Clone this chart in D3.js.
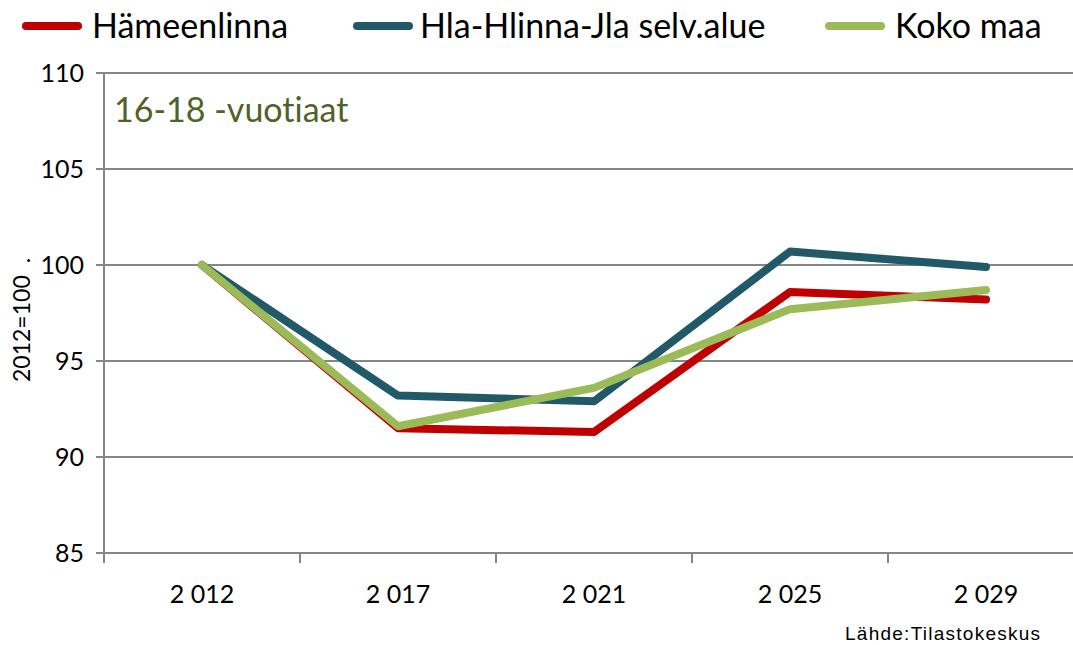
<!DOCTYPE html>
<html>
<head>
<meta charset="utf-8">
<script src="https://cdn.jsdelivr.net/npm/d3@7"></script>
<style>
  body { margin: 0; background: #fff; }
  svg { display: block; font-family: Lato, "Open Sans", sans-serif; font-variant-ligatures: none; }
</style>
</head>
<body>
<svg width="1073" height="645"></svg>
<script>
// vuodet ja indeksit (2012=100)
var years = ["2 012", "2 017", "2 021", "2 025", "2 029"];
var hameenlinna = [100, 91.5, 91.3, 98.6, 98.2];
var selvAlue = [100, 93.2, 92.9, 100.7, 99.9];
var kokoMaa = [100, 91.6, 93.6, 97.7, 98.7];
var yTicks = [85, 90, 95, 100, 105, 110];

var series = [
    { name: "Hämeenlinna", values: hameenlinna, color: "#c00000" },
    { name: "Hla-Hlinna-Jla selv.alue", values: selvAlue, color: "#215968" },
    { name: "Koko maa", values: kokoMaa, color: "#9bbb59" }
];

var svg = d3.select("svg");
var axisColor = "#868686";

var x = d3.scaleBand()
    .domain(years)
    .range([104, 1084])
    .padding(0);

var y = d3.scaleLinear()
    .domain([85, 110])
    .range([553, 73]);

// gridlines + y ticks
svg.append("g")
    .selectAll("line")
    .data(yTicks)
    .enter()
    .append("line")
    .attr("x1", 96)
    .attr("x2", 1084)
    .attr("y1", function(d) { return y(d); })
    .attr("y2", function(d) { return y(d); })
    .attr("stroke", axisColor)
    .attr("stroke-width", 2);

svg.append("g")
    .selectAll("text")
    .data(yTicks)
    .enter()
    .append("text")
    .attr("x", 84)
    .attr("y", function(d) { return y(d) + 9; })
    .attr("text-anchor", "end")
    .attr("font-size", 25)
    .attr("fill", "#000")
    .text(function(d) { return d; });

// y axis line
svg.append("line")
    .attr("x1", 104).attr("x2", 104)
    .attr("y1", y(110)).attr("y2", y(85))
    .attr("stroke", axisColor)
    .attr("stroke-width", 2);

// x axis ticks (band edges)
var edges = years.map(function(d) { return x(d); });
svg.append("g")
    .selectAll("line")
    .data(edges)
    .enter()
    .append("line")
    .attr("x1", function(d) { return d; })
    .attr("x2", function(d) { return d; })
    .attr("y1", y(85))
    .attr("y2", y(85) + 10)
    .attr("stroke", axisColor)
    .attr("stroke-width", 2);

svg.append("g")
    .selectAll("text")
    .data(years)
    .enter()
    .append("text")
    .attr("x", function(d) { return x(d) + x.bandwidth() / 2; })
    .attr("y", 603)
    .attr("text-anchor", "middle")
    .attr("font-size", 25)
    .attr("fill", "#000")
    .text(function(d) { return d; });

// lines
var line = d3.line()
    .x(function(d, i) { return x(years[i]) + x.bandwidth() / 2; })
    .y(function(d) { return y(d); });

series.forEach(function(s) {
    svg.append("path")
        .datum(s.values)
        .attr("d", line)
        .attr("fill", "none")
        .attr("stroke", s.color)
        .attr("stroke-width", 8)
        .attr("stroke-linejoin", "round")
        .attr("stroke-linecap", "round");
}); //foreach series

// legend
var legendX = [26, 357, 829];
series.forEach(function(s, i) {
    var g = svg.append("g").attr("transform", "translate(" + legendX[i] + ",26)");
    g.append("line")
        .attr("x1", 0).attr("x2", 52)
        .attr("stroke", s.color)
        .attr("stroke-width", 8)
        .attr("stroke-linecap", "round");
    g.append("text")
        .attr("x", i == 1 ? 63 : 66)
        .attr("y", 12)
        .attr("font-size", 34)
        .attr("fill", "#000")
        .text(s.name);
});

// annotation
svg.append("text")
    .attr("x", 114)
    .attr("y", 122)
    .attr("font-size", 34)
    .attr("fill", "#4f6228")
    .text("16-18 -vuotiaat");

// y axis title
svg.append("text")
    .attr("transform", "translate(30,382) rotate(-90)")
    .attr("font-size", 23)
    .attr("fill", "#000")
    .text("2012=100")
    .append("tspan")
    .attr("dx", 12)
    .text(".");

// source
svg.append("text")
    .attr("x", 845)
    .attr("y", 640)
    .attr("font-family", "'Liberation Sans', Arial, sans-serif")
    .attr("font-size", 19)
    .attr("fill", "#000")
    .attr("textLength", 195)
    .attr("lengthAdjust", "spacing")
    .text("Lähde:Tilastokeskus");
</script>
</body>
</html>
